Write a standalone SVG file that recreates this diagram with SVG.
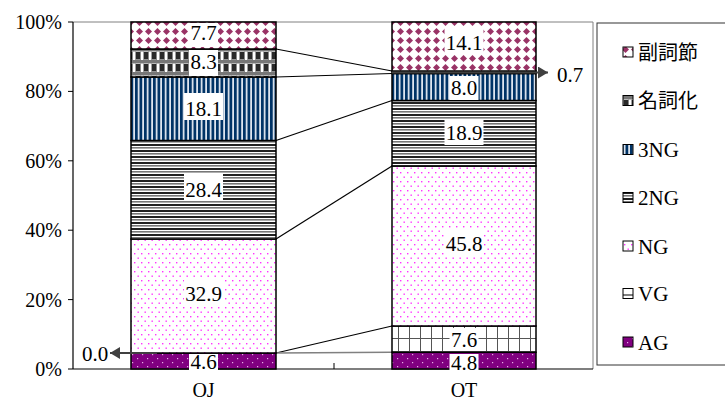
<svg xmlns="http://www.w3.org/2000/svg" width="725" height="403" viewBox="0 0 725 403">
<style>
text{font-family:"Liberation Serif","Times New Roman","DejaVu Serif","Noto Sans CJK JP",serif;fill:#000;}
.ax{font-size:20px;text-anchor:end;}
.cat{font-size:20px;text-anchor:middle;}
.lbl{font-size:21px;text-anchor:middle;}
.lg{font-size:21px;}
.lgj{font-size:20px;font-family:"Noto Sans CJK JP",sans-serif;}
.seg{stroke:#000;stroke-width:1.5;}
.box{fill:#fff;}
.con{stroke:#000;stroke-width:1.2;fill:none;}
.arr{stroke:#404040;stroke-width:1.8;fill:none;}
.lgs{stroke:#000;stroke-width:1;}
</style>
<defs>
<pattern id="pAdv" width="9" height="9" patternUnits="userSpaceOnUse">
<rect width="9" height="9" fill="#fff"/>
<path d="M4.5 1 L8 4.5 L4.5 8 L1 4.5Z" fill="#993366"/>
</pattern>
<pattern id="pNom" width="8" height="12" patternUnits="userSpaceOnUse">
<rect width="8" height="12" fill="#fff"/>
<rect width="8" height="3.5" fill="#777"/>
<rect x="0" y="4" width="4" height="7.5" fill="#2a2a2a"/>
<rect x="4" y="3.5" width="1" height="8.5" fill="#888"/>
<rect x="7.2" y="3.5" width="0.8" height="8.5" fill="#888"/>
</pattern>
<pattern id="p3NG" width="4.5" height="10" patternUnits="userSpaceOnUse">
<rect width="4.5" height="10" fill="#fff"/>
<rect width="2.8" height="10" fill="#003366"/>
<rect x="3.4" width="0.5" height="10" fill="#9fb4cf"/>
</pattern>
<pattern id="p2NG" width="10" height="6" patternUnits="userSpaceOnUse">
<rect width="10" height="6" fill="#fff"/>
<rect width="10" height="2" fill="#222"/>
<rect y="3" width="10" height="1.6" fill="#777"/>
</pattern>
<pattern id="pNG" width="7" height="9" patternUnits="userSpaceOnUse">
<rect width="7" height="9" fill="#fff"/>
<rect x="1" y="1" width="1.4" height="1.4" fill="#ff33ff"/>
<rect x="4.5" y="5.5" width="1.4" height="1.4" fill="#ff33ff"/>
</pattern>
<pattern id="pVG" width="11" height="13" x="2" y="0" patternUnits="userSpaceOnUse">
<rect width="11" height="13" fill="#fff"/>
<rect width="1" height="13" fill="#555"/>
<rect width="11" height="1" fill="#555"/>
</pattern>
<pattern id="pAG" width="10" height="8" patternUnits="userSpaceOnUse">
<rect width="10" height="8" fill="#800080"/>
<rect x="2" y="2" width="1.2" height="1.2" fill="#e6aee6"/>
<rect x="7" y="6" width="1.2" height="1.2" fill="#e6aee6"/>
</pattern>
<marker id="ah" viewBox="0 0 10 12" refX="10" refY="6" markerWidth="10" markerHeight="12" markerUnits="userSpaceOnUse" orient="auto">
<path d="M0 0 L10 6 L0 12Z" fill="#404040"/>
</marker>
</defs>
<rect width="725" height="403" fill="#fff"/>

<g id="axes">
<line x1="73" y1="22" x2="593" y2="22" stroke="#808080" stroke-width="1"/>
<line x1="593" y1="22" x2="593" y2="369" stroke="#808080" stroke-width="1"/>
<line x1="73" y1="22" x2="73" y2="369" stroke="#000" stroke-width="1.2"/>
<line x1="73" y1="369" x2="593" y2="369" stroke="#000" stroke-width="1.2"/>
<g stroke="#000" stroke-width="1">
<line x1="68" y1="22" x2="73" y2="22"/>
<line x1="68" y1="91.4" x2="73" y2="91.4"/>
<line x1="68" y1="160.8" x2="73" y2="160.8"/>
<line x1="68" y1="230.2" x2="73" y2="230.2"/>
<line x1="68" y1="299.6" x2="73" y2="299.6"/>
<line x1="68" y1="369" x2="73" y2="369"/>
<line x1="334" y1="363" x2="334" y2="369"/>
</g>
<text class="ax" x="62" y="29">100%</text>
<text class="ax" x="62" y="98">80%</text>
<text class="ax" x="62" y="168">60%</text>
<text class="ax" x="62" y="237">40%</text>
<text class="ax" x="62" y="307">20%</text>
<text class="ax" x="62" y="376">0%</text>
<text class="cat" x="203.5" y="397">OJ</text>
<text class="cat" x="464" y="397">OT</text>
</g>

<g id="connectors">
<line class="con" x1="276" y1="49" x2="392" y2="71"/>
<line class="con" x1="276" y1="77" x2="392" y2="73.5"/>
<line class="con" x1="276" y1="140.5" x2="392" y2="100.5"/>
<line class="con" x1="276" y1="239" x2="392" y2="166"/>
<line class="con" x1="276" y1="353" x2="392" y2="326"/>
<line x1="276" y1="353" x2="392" y2="352.3" stroke="#808080" stroke-width="1.5"/>
</g>

<g id="bar-OJ">
<rect class="seg" x="131" y="353" width="145" height="16" fill="url(#pAG)"/>
<rect class="seg" x="131" y="239" width="145" height="114" fill="url(#pNG)"/>
<rect class="seg" x="131" y="140.5" width="145" height="98.5" fill="url(#p2NG)"/>
<rect class="seg" x="131" y="77" width="145" height="63.5" fill="url(#p3NG)"/>
<rect class="seg" x="131" y="49" width="145" height="28" fill="url(#pNom)"/>
<rect class="seg" x="131" y="22" width="145" height="27" fill="url(#pAdv)"/>
<rect class="box" x="189" y="23" width="29" height="24"/>
<text class="lbl" x="203.5" y="40">7.7</text>
<rect class="box" x="189" y="50" width="29" height="26"/>
<text class="lbl" x="203.5" y="69">8.3</text>
<rect class="box" x="184" y="93" width="39" height="27"/>
<text class="lbl" x="203.5" y="116">18.1</text>
<rect class="box" x="184" y="174" width="39" height="27"/>
<text class="lbl" x="203.5" y="197">28.4</text>
<rect class="box" x="184" y="278" width="39" height="27"/>
<text class="lbl" x="203.5" y="301">32.9</text>
<rect class="box" x="189" y="354" width="29" height="17"/>
<text class="lbl" x="203.5" y="369">4.6</text>
</g>

<g id="bar-OT">
<rect class="seg" x="392" y="352.3" width="144" height="16.7" fill="url(#pAG)"/>
<rect class="seg" x="392" y="326" width="144" height="26.3" fill="url(#pVG)"/>
<rect class="seg" x="392" y="166" width="144" height="160" fill="url(#pNG)"/>
<rect class="seg" x="392" y="100.5" width="144" height="65.5" fill="url(#p2NG)"/>
<rect class="seg" x="392" y="73.5" width="144" height="27" fill="url(#p3NG)"/>
<rect class="seg" x="392" y="71" width="144" height="2.5" fill="url(#pNom)"/>
<rect class="seg" x="392" y="22" width="144" height="49" fill="url(#pAdv)"/>
<rect class="box" x="444.5" y="28" width="39" height="27"/>
<text class="lbl" x="464" y="50">14.1</text>
<rect class="box" x="449.5" y="76" width="29" height="24"/>
<text class="lbl" x="464" y="95">8.0</text>
<rect class="box" x="444.5" y="119" width="39" height="26"/>
<text class="lbl" x="464" y="140">18.9</text>
<rect class="box" x="444.5" y="230" width="39" height="27"/>
<text class="lbl" x="464" y="251">45.8</text>
<rect class="box" x="449.5" y="328" width="29" height="23"/>
<text class="lbl" x="464" y="347">7.6</text>
<rect class="box" x="449.5" y="354" width="29" height="17"/>
<text class="lbl" x="464" y="370">4.8</text>
</g>

<g id="arrow-07">
<line class="arr" x1="392" y1="72.5" x2="548" y2="72.5" marker-end="url(#ah)"/>
<text class="lbl" x="570" y="82">0.7</text>
</g>
<g id="arrow-00">
<line class="arr" x1="157" y1="353" x2="110" y2="353" marker-end="url(#ah)"/>
<text class="lbl" x="95" y="361">0.0</text>
</g>

<g id="legend">
<rect x="597" y="23" width="140" height="342" fill="#fff" stroke="#333" stroke-width="1"/>
<rect class="lgs" x="623" y="47" width="10" height="10" fill="url(#pAdv)"/>
<text class="lgj" x="638" y="59.5">副詞節</text>
<rect class="lgs" x="623" y="95.5" width="10" height="10" fill="url(#pNom)"/>
<text class="lgj" x="638" y="108">名詞化</text>
<rect class="lgs" x="623" y="144.5" width="10" height="10" fill="url(#p3NG)"/>
<text class="lg" x="638" y="157">3NG</text>
<rect class="lgs" x="623" y="192.5" width="10" height="10" fill="url(#p2NG)"/>
<text class="lg" x="638" y="205">2NG</text>
<rect class="lgs" x="623" y="241" width="10" height="10" fill="url(#pNG)"/>
<text class="lg" x="638" y="253.5">NG</text>
<rect class="lgs" x="623" y="288.5" width="10" height="10" fill="#fff"/>
<line x1="623" y1="295" x2="633" y2="295" stroke="#000" stroke-width="1"/>
<text class="lg" x="638" y="301">VG</text>
<rect class="lgs" x="623" y="337" width="10" height="10" fill="url(#pAG)"/>
<text class="lg" x="638" y="349.5">AG</text>
</g>
</svg>
